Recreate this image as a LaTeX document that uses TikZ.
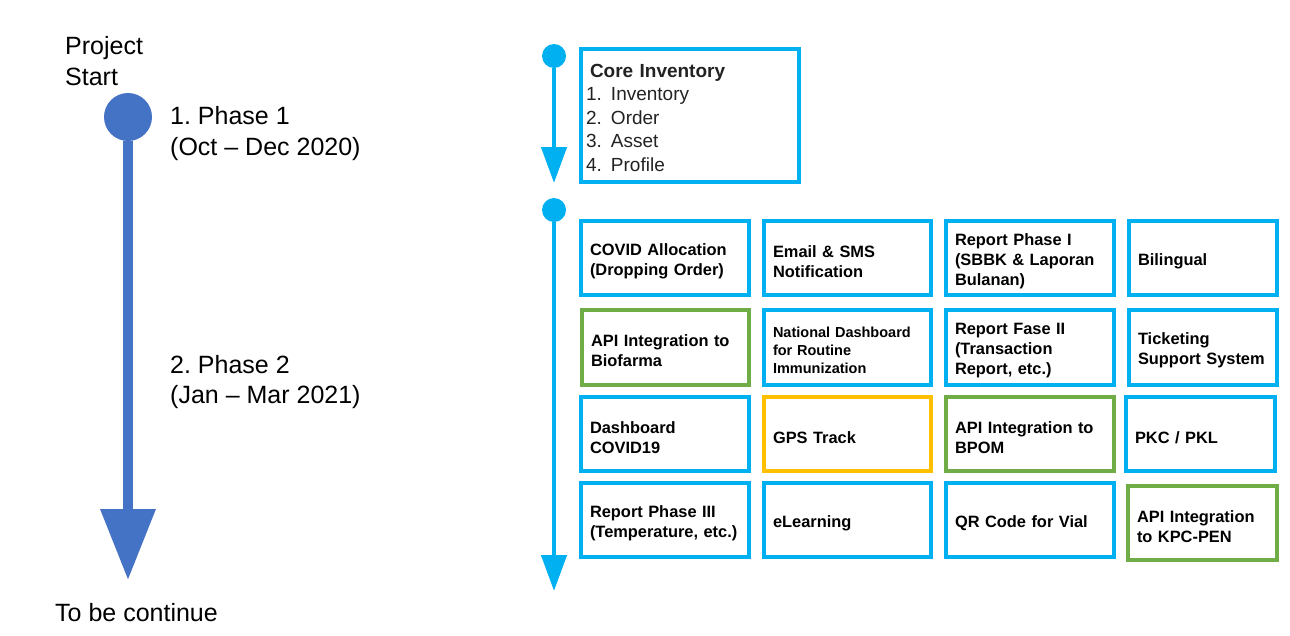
\documentclass[tikz,border=0pt]{standalone}
\usepackage{fontspec}
\setmainfont{Liberation Sans}
\usetikzlibrary{arrows.meta}
\definecolor{cyanb}{HTML}{00B0F0}
\definecolor{tblue}{HTML}{4472C4}
\definecolor{gr}{HTML}{70AD47}
\definecolor{yel}{HTML}{FFC000}
\definecolor{txt}{HTML}{222222}
\tikzset{
  cell/.style={draw=cyanb, line width=4pt, minimum height=74pt, inner xsep=9pt, inner ysep=0pt,
    align=left, text=black, font=\bfseries\fontsize{16.4}{20}\selectfont,
    execute at begin node={\rule{0pt}{1.13em}}},
  lbl/.style={anchor=west, inner sep=0pt, align=left, text=black, font=\fontsize{25}{30.5}\selectfont},
  dotc/.style={circle, fill=cyanb, minimum size=24pt, inner sep=0pt},
  tl/.style={line width=4.5pt, cyanb, -{Triangle[length=36pt,width=25pt]}}
}
\begin{document}
\begin{tikzpicture}[x=1pt,y=-1pt]
\useasboundingbox (0,0) rectangle (1290,635);
% left timeline
\node[circle, fill=tblue, minimum size=48pt, inner sep=0pt] (p0) at (128,117) {};
\coordinate (pend) at (128,580);
\draw[line width=10pt, tblue, -{Triangle[length=71pt,width=53pt]}] (p0) -- (pend);
\node[lbl] (ps) at (65,61) {Project\\Start};
\node[lbl] (ph1) at (170,133.5) {1.\ Phase 1\\(Oct -- Dec 2020)};
\node[lbl] (ph2) at (170,382) {2.\ Phase 2\\(Jan -- Mar 2021)};
\node[lbl] (tbc) at (55,612.5) {To be continue};
% right top timeline
\node[dotc] (d1) at (554,56) {};
\coordinate (t1) at (554,183);
\draw[tl] (d1) -- (t1);
\node[draw=cyanb, line width=4pt, minimum width=218pt, minimum height=133pt, text width=208pt,
  inner xsep=5pt, inner ysep=0pt, align=left, text=txt, font=\fontsize{19}{23.5}\selectfont]
  (core) at (690,115.5)
  {\rule{0pt}{0.95em}\hspace*{4pt}\textbf{Core Inventory}\\
   \makebox[25pt][l]{1.}Inventory\\
   \makebox[25pt][l]{2.}Order\\
   \makebox[25pt][l]{3.}Asset\\
   \makebox[25pt][l]{4.}Profile};
% right second timeline
\node[dotc] (d2) at (554,210) {};
\coordinate (t2) at (554,591);
\draw[tl] (d2) -- (t2);
% row 1
\node[cell, minimum width=168pt, text width=150pt] (c11) at (665,258) {COVID Allocation\\(Dropping Order)};
\node[cell, minimum width=167pt, text width=149pt] (c12) at (847.5,258) {Email \& SMS\\Notification};
\node[cell, minimum width=168pt, text width=150pt] (c13) at (1030,258) {Report Phase I\\(SBBK \& Laporan\\Bulanan)};
\node[cell, minimum width=148pt, text width=130pt] (c14) at (1203,258) {Bilingual};
% row 2
\node[cell, draw=gr, minimum width=167pt, text width=149pt, minimum height=75pt] (c21) at (665.5,347.5) {API Integration to\\Biofarma};
\node[cell, minimum width=167pt, text width=149pt, minimum height=75pt, font=\bfseries\fontsize{14.5}{18}\selectfont] (c22) at (847.5,347) {National Dashboard\\for Routine\\Immunization};
\node[cell, minimum width=168pt, text width=150pt, minimum height=75pt] (c23) at (1030,347) {Report Fase II\\(Transaction\\Report, etc.)};
\node[cell, minimum width=148pt, text width=130pt, minimum height=75pt] (c24) at (1203,347) {Ticketing\\Support System};
% row 3
\node[cell, minimum width=168pt, text width=150pt] (c31) at (665,434) {Dashboard\\COVID19};
\node[cell, draw=yel, minimum width=167pt, text width=149pt] (c32) at (847.5,434) {GPS Track};
\node[cell, draw=gr, minimum width=168pt, text width=150pt] (c33) at (1030,434) {API Integration to\\BPOM};
\node[cell, minimum width=149pt, text width=131pt] (c34) at (1200.5,434) {PKC / PKL};
% row 4
\node[cell, minimum width=168pt, text width=150pt] (c41) at (665,520) {Report Phase III\\(Temperature, etc.)};
\node[cell, minimum width=167pt, text width=149pt] (c42) at (847.5,520) {eLearning};
\node[cell, minimum width=168pt, text width=150pt] (c43) at (1030,520) {QR Code for Vial};
\node[cell, draw=gr, minimum width=149pt, text width=131pt] (c44) at (1202.5,523) {API Integration\\to KPC-PEN};
\end{tikzpicture}
\end{document}
